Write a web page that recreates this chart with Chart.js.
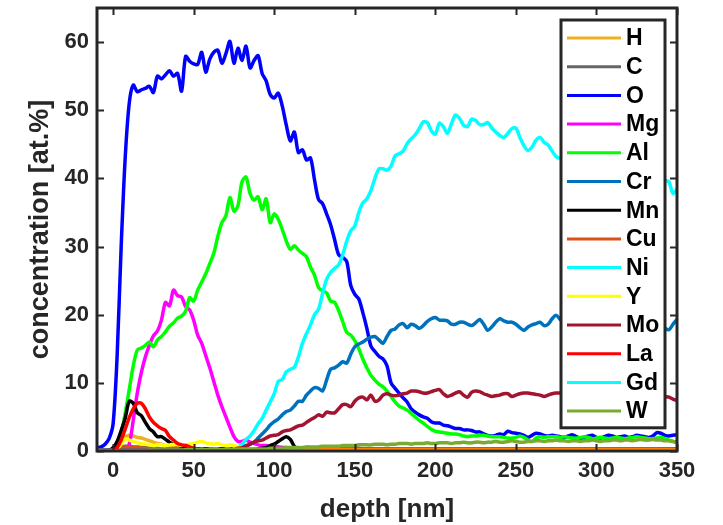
<!DOCTYPE html>
<html>
<head>
<meta charset="utf-8">
<title>Depth profile</title>
<script src="https://cdn.jsdelivr.net/npm/chart.js@4"></script>
<style>
  html, body { margin: 0; padding: 0; background: #fff; }
  #wrap { width: 723px; height: 525px; }
</style>
</head>
<body>
<div id="wrap"><canvas id="profileChart" width="723" height="525"></canvas></div>
<script>
// depth grid [nm], 2.5 nm steps
const depth = [
  -10, -7.5, -5, -2.5, 0, 2.5, 5, 7.5, 10, 12.5,
  15, 17.5, 20, 22.5, 25, 27.5, 30, 32.5, 35, 37.5,
  40, 42.5, 45, 47.5, 50, 52.5, 55, 57.5, 60, 62.5,
  65, 67.5, 70, 72.5, 75, 77.5, 80, 82.5, 85, 87.5,
  90, 92.5, 95, 97.5, 100, 102.5, 105, 107.5, 110, 112.5,
  115, 117.5, 120, 122.5, 125, 127.5, 130, 132.5, 135, 137.5,
  140, 142.5, 145, 147.5, 150, 152.5, 155, 157.5, 160, 162.5,
  165, 167.5, 170, 172.5, 175, 177.5, 180, 182.5, 185, 187.5,
  190, 192.5, 195, 197.5, 200, 202.5, 205, 207.5, 210, 212.5,
  215, 217.5, 220, 222.5, 225, 227.5, 230, 232.5, 235, 237.5,
  240, 242.5, 245, 247.5, 250, 252.5, 255, 257.5, 260, 262.5,
  265, 267.5, 270, 272.5, 275, 277.5, 280, 282.5, 285, 287.5,
  290, 292.5, 295, 297.5, 300, 302.5, 305, 307.5, 310, 312.5,
  315, 317.5, 320, 322.5, 325, 327.5, 330, 332.5, 335, 337.5,
  340, 342.5, 345, 347.5, 350
];

const H = [
  0.1, 0.1, 0.1, 0.1, 0.2, 0.6, 1.3, 2.0, 2.3, 2.2,
  2.0, 1.9, 1.7, 1.5, 1.3, 1.1, 1.0, 0.8, 0.7, 0.6,
  0.5, 0.4, 0.4, 0.3, 0.3, 0.3, 0.2, 0.2, 0.2, 0.2,
  0.2, 0.2, 0.2, 0.2, 0.2, 0.2, 0.2, 0.2, 0.2, 0.2,
  0.2, 0.2, 0.2, 0.2, 0.2, 0.2, 0.2, 0.2, 0.2, 0.2,
  0.2, 0.2, 0.2, 0.2, 0.2, 0.2, 0.2, 0.2, 0.2, 0.2,
  0.2, 0.2, 0.2, 0.2, 0.2, 0.2, 0.2, 0.2, 0.2, 0.2,
  0.2, 0.2, 0.2, 0.2, 0.2, 0.2, 0.2, 0.2, 0.2, 0.2,
  0.2, 0.2, 0.2, 0.2, 0.2, 0.2, 0.2, 0.2, 0.2, 0.2,
  0.2, 0.2, 0.2, 0.2, 0.2, 0.2, 0.2, 0.2, 0.2, 0.2,
  0.2, 0.2, 0.2, 0.2, 0.2, 0.2, 0.2, 0.2, 0.2, 0.2,
  0.2, 0.2, 0.2, 0.2, 0.2, 0.2, 0.2, 0.2, 0.2, 0.2,
  0.2, 0.2, 0.2, 0.2, 0.2, 0.2, 0.2, 0.2, 0.2, 0.2,
  0.2, 0.2, 0.2, 0.2, 0.2, 0.2, 0.2, 0.2, 0.2, 0.2,
  0.2, 0.2, 0.2, 0.2, 0.2
];

const C = [
  0.1, 0.1, 0.1, 0.1, 0.2, 0.4, 0.6, 0.7, 0.7, 0.6,
  0.6, 0.5, 0.5, 0.4, 0.4, 0.4, 0.3, 0.3, 0.3, 0.3,
  0.3, 0.3, 0.3, 0.3, 0.3, 0.3, 0.3, 0.3, 0.3, 0.3,
  0.3, 0.3, 0.3, 0.3, 0.3, 0.3, 0.3, 0.3, 0.3, 0.3,
  0.3, 0.3, 0.4, 0.4, 0.5, 0.5, 0.5, 0.4, 0.4, 0.3,
  0.3, 0.3, 0.3, 0.3, 0.3, 0.3, 0.3, 0.3, 0.3, 0.3,
  0.3, 0.3, 0.3, 0.3, 0.3, 0.3, 0.3, 0.3, 0.3, 0.3,
  0.3, 0.3, 0.3, 0.3, 0.3, 0.3, 0.3, 0.3, 0.3, 0.3,
  0.3, 0.3, 0.3, 0.3, 0.3, 0.3, 0.3, 0.3, 0.3, 0.3,
  0.3, 0.3, 0.3, 0.3, 0.3, 0.3, 0.3, 0.3, 0.3, 0.3,
  0.3, 0.3, 0.3, 0.3, 0.3, 0.3, 0.3, 0.3, 0.3, 0.3,
  0.3, 0.3, 0.3, 0.3, 0.3, 0.3, 0.3, 0.3, 0.3, 0.3,
  0.3, 0.3, 0.3, 0.3, 0.3, 0.3, 0.3, 0.3, 0.3, 0.3,
  0.3, 0.3, 0.3, 0.3, 0.3, 0.3, 0.3, 0.3, 0.3, 0.3,
  0.3, 0.3, 0.3, 0.3, 0.3
];

const O = [
  0.5, 0.6, 1.0, 1.8, 4, 14, 30, 43, 51, 53.7,
  52.7, 53, 53.2, 53.5, 52.6, 55, 54.6, 55.2, 55.8, 55,
  55.4, 52.8, 57.9, 57.2, 56.8, 56.7, 58.5, 55.6, 57.5, 58.5,
  58.8, 56.9, 58.3, 60.1, 56.9, 59.1, 57.3, 59.4, 56.2, 57.3,
  58, 55.4, 54.3, 52.3, 51.8, 52.5, 50.6, 47.8, 45.5, 46.8,
  43.8, 44.2, 42.7, 43, 39.8, 36.9, 36.3, 34.8, 33.2, 31,
  28.8, 28.4, 27.8, 24.3, 23, 22.3, 20.3, 18, 15.4, 14.6,
  13.9, 13.5, 12.5, 10, 9.2, 8.5, 7.8, 7.2, 6.2, 5.7,
  5.3, 5, 4.8, 4.3, 4.1, 4.1, 3.8, 3.7, 3.5, 3.3,
  3.3, 3.1, 3.1, 3.0, 2.8, 2.8, 2.5, 2.3, 2.2, 2.3,
  2.5, 2.4, 2.9, 2.7, 2.6, 2.5, 2.3, 2.0, 2.3, 2.6,
  2.5, 2.3, 2.2, 2.3, 2.2, 2.1, 2.0, 2.2, 2.4, 2.1,
  1.9, 2.0, 2.2, 2.3, 2.0, 1.9, 2.1, 2.3, 2.2, 2.0,
  2.1, 2.2, 2.0, 2.1, 2.3, 2.2, 2.1, 2.0, 2.2, 2.7,
  2.6, 2.3, 2.2, 2.3, 2.4
];

const Mg = [
  0, 0, 0, 0, 0, 0, 0.1, 0.3, 1.0, 4.5,
  8.5, 11.5, 13.8, 15.5, 16.9, 17.6, 19.2, 21.8, 21.3, 23.6,
  22.8, 22.6, 21.2, 20.7, 19.2, 17, 15.8, 14, 12.2, 10.2,
  8.2, 6.5, 5, 3.5, 2.1, 1.4, 1.4, 1.6, 1.3, 1.1,
  0.9, 0.8, 0.8, 0.7, 0.7, 0.6, 0.5, 0.5, 0.4, 0.4,
  0.4, 0.4, 0.3, 0.3, 0.4, 0.4, 0.3, 0.3, 0.3, 0.4,
  0.4, 0.3, 0.3, 0.3, 0.4, 0.4, 0.3, 0.3, 0.3, 0.3,
  0.3, 0.3, 0.3, 0.3, 0.3, 0.3, 0.3, 0.3, 0.3, 0.3,
  0.3, 0.3, 0.3, 0.3, 0.3, 0.3, 0.3, 0.3, 0.3, 0.3,
  0.3, 0.3, 0.3, 0.3, 0.3, 0.3, 0.3, 0.3, 0.3, 0.3,
  0.3, 0.3, 0.3, 0.3, 0.3, 0.3, 0.3, 0.3, 0.3, 0.3,
  0.3, 0.3, 0.3, 0.3, 0.3, 0.3, 0.3, 0.3, 0.3, 0.3,
  0.3, 0.3, 0.3, 0.3, 0.3, 0.3, 0.3, 0.3, 0.3, 0.3,
  0.3, 0.3, 0.3, 0.3, 0.3, 0.3, 0.3, 0.3, 0.3, 0.3,
  0.3, 0.3, 0.3, 0.3, 0.3
];

const Al = [
  0, 0, 0, 0, 0.1, 0.5, 2.5, 5.5, 9, 12.5,
  14.8, 15.1, 15.5, 16, 15.3, 16.3, 16.8, 17.5, 18.3, 18.8,
  19.5, 19.8, 20.5, 22.5, 22, 23.6, 24.8, 26, 27.5, 29,
  31.5, 33.5, 34.5, 37.2, 35.2, 36, 39.5, 40.2, 37.8, 36.8,
  37.3, 35.4, 37, 33.5, 34.8, 34, 32.5, 30.8, 29.6, 30.1,
  29.5, 29, 28.5, 27, 25.8, 24, 23.5, 23.2, 22, 21.8,
  20.6, 19, 17.4, 17, 16.2, 15, 13.5, 12.2, 11.1, 10.4,
  9.8, 9.4, 8.8, 8, 7.2, 6.6, 6.3, 6, 5.5, 5,
  4.5, 4.1, 3.6, 3.2, 2.9, 2.8, 2.7, 2.6, 2.5, 2.5,
  2.4, 2.2, 2.1, 2.2, 2.2, 2.3, 2.3, 2.2, 2.1, 2.1,
  2.1, 2.0, 1.9, 1.9, 2.0, 2.2, 2.0, 1.6, 1.4, 1.9,
  2.1, 2.0, 2.1, 2.1, 2.1, 2.0, 2.1, 2.0, 1.9, 1.9,
  2.0, 2.1, 2.0, 1.8, 1.9, 2.0, 1.9, 1.8, 1.9, 2.0,
  1.9, 1.8, 1.9, 2.0, 2.1, 2.0, 1.9, 1.8, 1.8, 1.9,
  2.0, 1.8, 1.6, 1.4, 1.2
];

const Cr = [
  0.1, 0.1, 0.1, 0.1, 0.1, 0.1, 0.1, 0.1, 0.1, 0.1,
  0.1, 0.1, 0.1, 0.1, 0.1, 0.1, 0.1, 0.1, 0.1, 0.1,
  0.1, 0.1, 0.1, 0.1, 0.1, 0.1, 0.1, 0.1, 0.1, 0.1,
  0.1, 0.1, 0.1, 0.1, 0.2, 0.3, 0.6, 0.8, 1.0, 1.3,
  1.9, 2.5, 3.1, 3.8, 4.3, 4.7, 5.3, 5.8, 6.0, 6.6,
  7.3, 7.3, 8.2, 8.8, 9.3, 9.2, 8.8, 10.4, 12, 12.2,
  12.6, 13.1, 12.9, 14.2, 15.3, 15.7, 16, 16.4, 16.7, 16.8,
  16.3, 15.8, 16.8, 17.7, 17.9, 18.5, 18.7, 18.1, 18.6, 18.4,
  18.0, 18.4, 19.0, 19.4, 19.6, 19.2, 19.2, 19.1, 18.6, 18.6,
  18.9, 18.9, 18.6, 18.4, 18.8, 19.3, 18.6, 17.7, 18.2, 18.9,
  19.4, 19.1, 18.9, 18.9, 18.6, 18.1, 17.7, 18.2, 18.5, 18.7,
  18.9, 18.4, 18.6, 19.4, 19.9, 19.3, 18.8, 19.0, 19.3, 18.7,
  18.5, 18.9, 19.2, 18.8, 18.4, 18.7, 19.1, 19.3, 18.9, 18.5,
  18.8, 19.2, 19.0, 18.6, 18.4, 18.8, 19.1, 18.7, 18.3, 18.6,
  18.4, 18.0, 17.8, 18.6, 19.3
];

const Mn = [
  0, 0, 0, 0.1, 0.5, 1.4, 3.0, 4.8, 7.3, 7.0,
  5.6, 5.2, 4.2, 3.3, 2.8, 2.1, 2.1, 1.7, 1.3, 1.0,
  0.9, 0.7, 0.5, 0.4, 0.3, 0.3, 0.2, 0.3, 0.2, 0.2,
  0.2, 0.3, 0.2, 0.2, 0.3, 0.2, 0.2, 0.3, 0.2, 0.3,
  0.3, 0.4, 0.5, 0.8, 1.0, 1.4, 1.8, 2.1, 1.7, 0.7,
  0.2, 0.1, 0.1, 0.1, 0.1, 0.1, 0.1, 0.1, 0.1, 0.1,
  0.1, 0.1, 0.1, 0.1, 0.1, 0.1, 0.1, 0.1, 0.1, 0.1,
  0.1, 0.1, 0.1, 0.1, 0.1, 0.1, 0.1, 0.1, 0.1, 0.1,
  0.1, 0.1, 0.1, 0.1, 0.1, 0.1, 0.1, 0.1, 0.1, 0.1,
  0.1, 0.1, 0.1, 0.1, 0.1, 0.1, 0.1, 0.1, 0.1, 0.1,
  0.1, 0.1, 0.1, 0.1, 0.1, 0.1, 0.1, 0.1, 0.1, 0.1,
  0.1, 0.1, 0.1, 0.1, 0.1, 0.1, 0.1, 0.1, 0.1, 0.1,
  0.1, 0.1, 0.1, 0.1, 0.1, 0.1, 0.1, 0.1, 0.1, 0.1,
  0.1, 0.1, 0.1, 0.1, 0.1, 0.1, 0.1, 0.1, 0.1, 0.1,
  0.1, 0.1, 0.1, 0.1, 0.1
];

const Cu = [
  0, 0, 0, 0, 0.1, 0.3, 0.5, 0.6, 0.6, 0.5,
  0.5, 0.4, 0.4, 0.3, 0.3, 0.3, 0.2, 0.2, 0.2, 0.2,
  0.1, 0.1, 0.1, 0.1, 0.1, 0.1, 0.1, 0.1, 0.1, 0.1,
  0.1, 0.1, 0.1, 0.1, 0.1, 0.1, 0.1, 0.1, 0.1, 0.1,
  0.1, 0.1, 0.1, 0.1, 0.1, 0.1, 0.1, 0.1, 0.1, 0.1,
  0.1, 0.1, 0.1, 0.1, 0.1, 0.1, 0.1, 0.1, 0.1, 0.1,
  0.1, 0.1, 0.1, 0.1, 0.1, 0.1, 0.1, 0.1, 0.1, 0.1,
  0.1, 0.1, 0.1, 0.1, 0.1, 0.1, 0.1, 0.1, 0.1, 0.1,
  0.1, 0.1, 0.1, 0.1, 0.1, 0.1, 0.1, 0.1, 0.1, 0.1,
  0.1, 0.1, 0.1, 0.1, 0.1, 0.1, 0.1, 0.1, 0.1, 0.1,
  0.1, 0.1, 0.1, 0.1, 0.1, 0.1, 0.1, 0.1, 0.1, 0.1,
  0.1, 0.1, 0.1, 0.1, 0.1, 0.1, 0.1, 0.1, 0.1, 0.1,
  0.1, 0.1, 0.1, 0.1, 0.1, 0.1, 0.1, 0.1, 0.1, 0.1,
  0.1, 0.1, 0.1, 0.1, 0.1, 0.1, 0.1, 0.1, 0.1, 0.1,
  0.1, 0.1, 0.1, 0.1, 0.1
];

const Ni = [
  0.1, 0.1, 0.1, 0.1, 0.1, 0.1, 0.1, 0.1, 0.1, 0.1,
  0.1, 0.1, 0.1, 0.1, 0.1, 0.1, 0.1, 0.1, 0.1, 0.1,
  0.1, 0.1, 0.1, 0.1, 0.1, 0.1, 0.1, 0.1, 0.1, 0.1,
  0.1, 0.1, 0.1, 0.1, 0.3, 0.6, 1.0, 1.7, 2.2, 3.0,
  4.0, 4.8, 6.0, 7.2, 8.4, 10.2, 10.5, 11.6, 12.0, 12.3,
  13.8, 15.8, 17.2, 18.5, 20.0, 20.8, 23.1, 25.2, 26.2, 26.8,
  27.3, 28.8, 30.8, 32.3, 33, 35, 36.4, 37, 38.2, 40,
  41.4, 41.4, 41.2, 41.8, 43.3, 43.6, 44, 45.1, 45.8, 46.4,
  47.3, 48.3, 48.2, 47.0, 46.5, 48.1, 47.6, 46.6, 48.0, 49.3,
  48.8, 47.8, 47.6, 48.7, 48.5, 47.9, 47.9, 48.2, 47.4, 46.8,
  46.3, 46, 46.6, 47.3, 47.4, 46, 44.8, 44.1, 44.6, 45.6,
  46, 45.3, 44.9, 44, 43.2, 43.0, 43.5, 43.2, 42.8, 43.4,
  42.6, 42.2, 42.8, 42.0, 41.6, 42.2, 41.5, 41.0, 41.6, 40.8,
  40.5, 41.2, 40.6, 40.2, 40.8, 40.3, 39.9, 40.4, 39.8, 39.5,
  40.0, 39.7, 39.5, 37.8, 38.4
];

const Y = [
  0, 0, 0, 0, 0, 0.3, 1.0, 1.8, 1.6, 1.4,
  1.2, 1.1, 1.0, 0.9, 0.8, 0.9, 0.9, 0.8, 0.9, 1.0,
  0.9, 0.8, 0.9, 1.0, 1.1, 1.3, 1.4, 1.2, 1.1, 1.0,
  1.1, 0.9, 0.8, 0.9, 0.8, 0.6, 0.5, 0.4, 0.3, 0.3,
  0.2, 0.2, 0.2, 0.2, 0.2, 0.2, 0.2, 0.2, 0.2, 0.2,
  0.2, 0.2, 0.2, 0.2, 0.2, 0.2, 0.2, 0.2, 0.2, 0.2,
  0.2, 0.2, 0.2, 0.2, 0.2, 0.2, 0.2, 0.2, 0.2, 0.2,
  0.2, 0.2, 0.2, 0.2, 0.2, 0.2, 0.2, 0.2, 0.2, 0.2,
  0.2, 0.2, 0.2, 0.2, 0.2, 0.2, 0.2, 0.2, 0.2, 0.2,
  0.2, 0.2, 0.2, 0.2, 0.2, 0.2, 0.2, 0.2, 0.2, 0.2,
  0.2, 0.2, 0.2, 0.2, 0.2, 0.2, 0.2, 0.2, 0.2, 0.2,
  0.2, 0.2, 0.2, 0.2, 0.2, 0.2, 0.2, 0.2, 0.2, 0.2,
  0.2, 0.2, 0.2, 0.2, 0.2, 0.2, 0.2, 0.2, 0.2, 0.2,
  0.2, 0.2, 0.2, 0.2, 0.2, 0.2, 0.2, 0.2, 0.2, 0.2,
  0.2, 0.2, 0.2, 0.2, 0.2
];

const Mo = [
  0.1, 0.1, 0.1, 0.1, 0.1, 0.1, 0.1, 0.1, 0.1, 0.1,
  0.1, 0.1, 0.1, 0.1, 0.1, 0.1, 0.1, 0.1, 0.1, 0.1,
  0.1, 0.1, 0.1, 0.1, 0.1, 0.1, 0.1, 0.1, 0.1, 0.1,
  0.1, 0.1, 0.1, 0.1, 0.2, 0.4, 0.5, 0.7, 1.0, 1.3,
  1.5, 1.6, 1.9, 2.2, 2.3, 2.4, 2.8, 3.0, 3.1, 3.4,
  3.7, 3.8, 4.2, 4.6, 4.9, 5.3, 5.1, 5.7, 5.6, 5.6,
  6.2, 6.8, 6.8, 6.5, 7.3, 7.8, 7.9, 7.5, 8.2, 7.3,
  7.5, 8.2, 8.4, 8.2, 8.1, 8.2, 8.4, 8.5, 8.8, 8.8,
  8.7, 8.5, 8.5, 8.7, 8.9, 9.0, 8.4, 8.0, 8.2, 8.5,
  8.7, 8.2, 7.9, 8.6, 8.8, 8.7, 8.4, 8.2, 8.0, 8.1,
  8.2, 8.4, 8.4, 8.0, 8.2, 8.4, 8.5, 8.5, 8.4, 8.3,
  8.2, 8.0, 8.2, 8.4, 8.5, 8.5, 8.3, 8.1, 8.4, 8.6,
  8.3, 8.0, 8.2, 8.5, 8.4, 8.1, 7.9, 8.2, 8.4, 8.2,
  7.9, 8.1, 8.3, 8.0, 7.8, 8.1, 8.2, 7.9, 7.7, 8.0,
  8.1, 8.0, 7.9, 7.6, 7.4
];

const La = [
  0, 0, 0, 0, 0.1, 0.5, 1.6, 3.2, 4.9, 6.2,
  7.0, 7.0, 6.2, 5.0, 4.2, 3.7, 3.3, 3.0, 2.1, 1.6,
  1.1, 0.9, 0.8, 0.6, 0.4, 0.3, 0.2, 0.2, 0.2, 0.2,
  0.1, 0.1, 0.1, 0.1, 0.1, 0.1, 0.1, 0.1, 0.1, 0.1,
  0.1, 0.1, 0.1, 0.1, 0.1, 0.1, 0.1, 0.1, 0.1, 0.1,
  0.1, 0.1, 0.1, 0.1, 0.1, 0.1, 0.1, 0.1, 0.1, 0.1,
  0.1, 0.1, 0.1, 0.1, 0.1, 0.1, 0.1, 0.1, 0.1, 0.1,
  0.1, 0.1, 0.1, 0.1, 0.1, 0.1, 0.1, 0.1, 0.1, 0.1,
  0.1, 0.1, 0.1, 0.1, 0.1, 0.1, 0.1, 0.1, 0.1, 0.1,
  0.1, 0.1, 0.1, 0.1, 0.1, 0.1, 0.1, 0.1, 0.1, 0.1,
  0.1, 0.1, 0.1, 0.1, 0.1, 0.1, 0.1, 0.1, 0.1, 0.1,
  0.1, 0.1, 0.1, 0.1, 0.1, 0.1, 0.1, 0.1, 0.1, 0.1,
  0.1, 0.1, 0.1, 0.1, 0.1, 0.1, 0.1, 0.1, 0.1, 0.1,
  0.1, 0.1, 0.1, 0.1, 0.1, 0.1, 0.1, 0.1, 0.1, 0.1,
  0.1, 0.1, 0.1, 0.1, 0.1
];

const Gd = [
  0.05, 0.05, 0.05, 0.05, 0.05, 0.05, 0.05, 0.05, 0.05, 0.05,
  0.05, 0.05, 0.05, 0.05, 0.05, 0.05, 0.05, 0.05, 0.05, 0.05,
  0.05, 0.05, 0.05, 0.05, 0.05, 0.05, 0.05, 0.05, 0.05, 0.05,
  0.05, 0.05, 0.05, 0.05, 0.05, 0.05, 0.05, 0.05, 0.05, 0.05,
  0.05, 0.05, 0.05, 0.05, 0.05, 0.05, 0.05, 0.05, 0.05, 0.05,
  0.05, 0.05, 0.05, 0.05, 0.05, 0.05, 0.05, 0.05, 0.05, 0.05,
  0.05, 0.05, 0.05, 0.05, 0.05, 0.05, 0.05, 0.05, 0.05, 0.05,
  0.05, 0.05, 0.05, 0.05, 0.05, 0.05, 0.05, 0.05, 0.05, 0.05,
  0.05, 0.05, 0.05, 0.05, 0.05, 0.05, 0.05, 0.05, 0.05, 0.05,
  0.05, 0.05, 0.05, 0.05, 0.05, 0.05, 0.05, 0.05, 0.05, 0.05,
  0.05, 0.05, 0.05, 0.05, 0.05, 0.05, 0.05, 0.05, 0.05, 0.05,
  0.05, 0.05, 0.05, 0.05, 0.05, 0.05, 0.05, 0.05, 0.05, 0.05,
  0.05, 0.05, 0.05, 0.05, 0.05, 0.05, 0.05, 0.05, 0.05, 0.05,
  0.05, 0.05, 0.05, 0.05, 0.05, 0.05, 0.05, 0.05, 0.05, 0.05,
  0.05, 0.05, 0.05, 0.05, 0.05
];

const W = [
  0, 0, 0, 0, 0, 0, 0, 0, 0, 0,
  0, 0, 0, 0.1, 0.1, 0.1, 0.1, 0.1, 0.1, 0.1,
  0.1, 0.1, 0.2, 0.2, 0.2, 0.2, 0.2, 0.2, 0.2, 0.2,
  0.2, 0.2, 0.2, 0.2, 0.2, 0.3, 0.3, 0.3, 0.3, 0.3,
  0.3, 0.3, 0.3, 0.4, 0.4, 0.4, 0.4, 0.5, 0.5, 0.5,
  0.5, 0.5, 0.6, 0.6, 0.6, 0.6, 0.7, 0.7, 0.7, 0.7,
  0.7, 0.8, 0.8, 0.8, 0.8, 0.9, 0.9, 0.9, 0.9, 1.0,
  1.0, 1.0, 0.9, 1.0, 1.0, 1.1, 1.1, 1.1, 1.0, 1.1,
  1.1, 1.1, 1.2, 1.1, 1.1, 1.2, 1.2, 1.2, 1.1, 1.2,
  1.2, 1.3, 1.2, 1.2, 1.3, 1.3, 1.2, 1.3, 1.3, 1.4,
  1.3, 1.3, 1.4, 1.5, 1.4, 1.3, 1.3, 1.4, 1.4, 1.5,
  1.5, 1.4, 1.5, 1.5, 1.6, 1.5, 1.5, 1.4, 1.5, 1.5,
  1.4, 1.5, 1.5, 1.6, 1.5, 1.4, 1.5, 1.5, 1.6, 1.6,
  1.5, 1.6, 1.6, 1.5, 1.6, 1.7, 1.6, 1.6, 1.7, 1.6,
  1.6, 1.5, 1.5, 1.4, 1.3
];

const elements = ["H", "C", "O", "Mg", "Al", "Cr", "Mn", "Cu", "Ni", "Y", "Mo", "La", "Gd", "W"];
const seriesValues = [H, C, O, Mg, Al, Cr, Mn, Cu, Ni, Y, Mo, La, Gd, W];
const colors = ["#EDB120", "#666666", "#0000FF", "#FF00FF", "#00FF00", "#0072BD", "#000000",
                "#D95319", "#00FFFF", "#FFFF00", "#A2142F", "#FF0000", "#00FFFF", "#77AC30"];

const xTicks = [0, 50, 100, 150, 200, 250, 300, 350];
const yTicks = [0, 10, 20, 30, 40, 50, 60];

const axisColor = "#262626";
const fontFamily = "'Liberation Sans', Arial, Helvetica, sans-serif";

// MATLAB-like box with inward ticks on all four sides, plus an inside legend
const boxPlugin = {
    id: "matlabBox",
    afterDatasetsDraw(chart) {
        const ctx = chart.ctx;
        const a = chart.chartArea;
        const xs = chart.scales.x;
        const ys = chart.scales.y;
        const tick = 7;

        ctx.save();
        ctx.strokeStyle = axisColor;
        ctx.lineWidth = 2;
        ctx.beginPath();
        xTicks.forEach(v => {
            const px = Math.round(xs.getPixelForValue(v)) + 0.5;
            ctx.moveTo(px, a.bottom); ctx.lineTo(px, a.bottom - tick);
            ctx.moveTo(px, a.top); ctx.lineTo(px, a.top + tick);
        });
        yTicks.forEach(v => {
            const py = Math.round(ys.getPixelForValue(v)) + 0.5;
            ctx.moveTo(a.left, py); ctx.lineTo(a.left + tick, py);
            ctx.moveTo(a.right, py); ctx.lineTo(a.right - tick, py);
        });
        ctx.stroke();
        ctx.lineWidth = 3;
        ctx.strokeRect(a.left, a.top, a.right - a.left, a.bottom - a.top);

        // legend
        const boxW = 104, rowH = 28.7;
        const bx = a.right - 12 - boxW, by = a.top + 12;
        const boxH = rowH * elements.length + 6;
        ctx.fillStyle = "#ffffff";
        ctx.fillRect(bx, by, boxW, boxH);
        ctx.lineWidth = 3;
        ctx.strokeStyle = axisColor;
        ctx.strokeRect(bx, by, boxW, boxH);
        ctx.font = "bold 23px " + fontFamily;
        ctx.textBaseline = "middle";
        ctx.textAlign = "left";
        chart.data.datasets.forEach((ds, i) => {
            const ry = by + 18 + i * rowH;
            ctx.strokeStyle = ds.borderColor;
            ctx.lineWidth = 3;
            ctx.beginPath();
            ctx.moveTo(bx + 6, ry);
            ctx.lineTo(bx + 60, ry);
            ctx.stroke();
            ctx.fillStyle = "#000000";
            ctx.fillText(ds.label, bx + 65, ry + 1);
        });
        ctx.restore();
    }
};

const canvas = document.getElementById("profileChart");

new Chart(canvas, {
    type: "line",
    data: {
        labels: depth,
        datasets: elements.map((name, i) => ({
            label: name,
            data: depth.map((d, k) => ({ x: d, y: seriesValues[i][k] })),
            borderColor: colors[i],
            backgroundColor: colors[i],
            borderWidth: 3.5,
            borderJoinStyle: "round",
            borderCapStyle: "round",
            pointRadius: 0,
            tension: 0.3,
            fill: false,
            order: elements.length - i
        }))
    },
    options: {
        responsive: false,
        animation: false,
        devicePixelRatio: 1,
        layout: { padding: { top: 8, right: 46, left: 0, bottom: 0 } },
        plugins: {
            legend: { display: false },
            tooltip: { enabled: false }
        },
        scales: {
            x: {
                type: "linear",
                min: -10,
                max: 350,
                afterFit: scale => {
                    scale.height = 74;
                    scale.paddingLeft = 0;
                    scale.paddingRight = 0;
                },
                afterBuildTicks: scale => { scale.ticks = xTicks.map(v => ({ value: v })); },
                grid: { display: false, drawTicks: false },
                border: { display: false },
                ticks: {
                    color: axisColor,
                    padding: 7,
                    maxRotation: 0,
                    font: { family: fontFamily, size: 22, weight: "bold" }
                },
                title: {
                    display: true,
                    text: "depth [nm]",
                    color: axisColor,
                    padding: { top: 0, bottom: 0 },
                    font: { family: fontFamily, size: 26, weight: "bold" }
                }
            },
            y: {
                min: 0,
                max: 65,
                afterFit: scale => {
                    scale.width = 97;
                    scale.paddingTop = 0;
                    scale.paddingBottom = 0;
                },
                afterBuildTicks: scale => { scale.ticks = yTicks.map(v => ({ value: v })); },
                grid: { display: false, drawTicks: false },
                border: { display: false },
                ticks: {
                    color: axisColor,
                    padding: 8,
                    font: { family: fontFamily, size: 22, weight: "bold" }
                },
                title: {
                    display: true,
                    text: "concentration [at.%]",
                    color: axisColor,
                    padding: { top: 24, bottom: 0 },
                    font: { family: fontFamily, size: 27, weight: "bold" }
                }
            }
        }
    },
    plugins: [boxPlugin]
});
</script>
</body>
</html>
